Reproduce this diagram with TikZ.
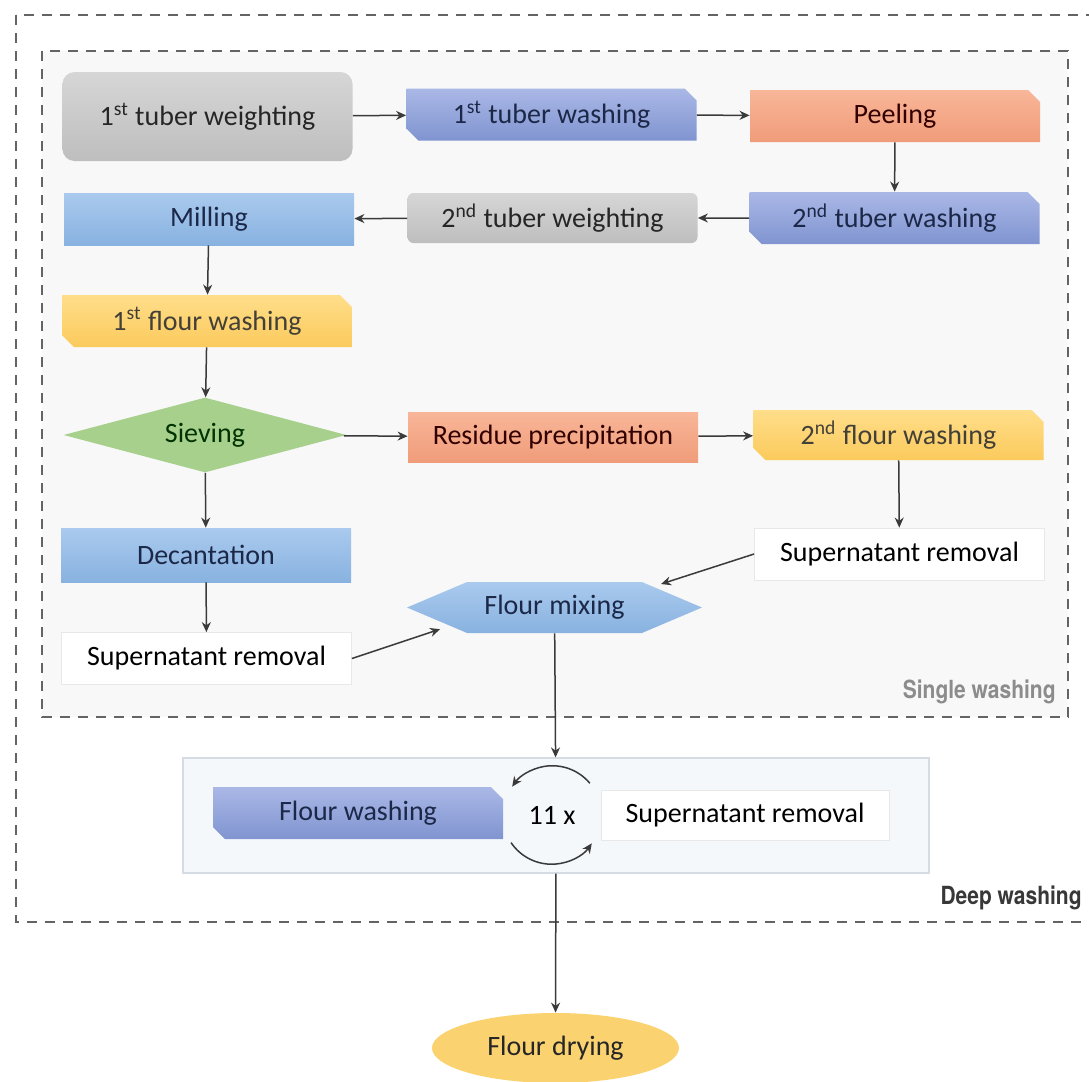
\documentclass[tikz,border=0pt]{standalone}
\usepackage{graphicx}
\usepackage{fontspec}
\setmainfont{Carlito}
\newfontfamily\labfont{TeX Gyre Heros}
\usepackage{tikz}
\usetikzlibrary{arrows.meta,positioning,shapes.geometric,shapes.misc,shapes.symbols}
\definecolor{wgh1}{RGB}{214,214,214}
\definecolor{wgh2}{RGB}{190,190,190}
\definecolor{wsh1}{RGB}{170,184,230}
\definecolor{wsh2}{RGB}{128,148,208}
\definecolor{sal1}{RGB}{248,182,152}
\definecolor{sal2}{RGB}{240,156,122}
\definecolor{blu1}{RGB}{170,202,238}
\definecolor{blu2}{RGB}{136,178,224}
\definecolor{yel1}{RGB}{255,222,138}
\definecolor{yel2}{RGB}{251,202,92}
\definecolor{grn1}{RGB}{168,208,141}
\definecolor{dry1}{RGB}{251,210,112}
\definecolor{innerbg}{RGB}{248,248,248}
\definecolor{deepbg}{RGB}{245,248,251}
\definecolor{deepline}{RGB}{214,220,228}
\definecolor{dashcol}{RGB}{100,100,100}
\definecolor{arrcol}{RGB}{58,58,58}
\definecolor{txtblue}{RGB}{28,40,72}
\tikzset{
	base/.style={font=\fontsize{14}{17}\selectfont, inner sep=0pt, minimum width=145pt, minimum height=26pt, align=center},
	weigh/.style={base, rounded corners=6pt, top color=wgh1, bottom color=wgh2, text=black!85},
	wash/.style={base, chamfered rectangle, chamfered rectangle corners={north east,south west}, chamfered rectangle xsep=3pt, chamfered rectangle ysep=3pt, top color=wsh1, bottom color=wsh2, text=txtblue},
	peel/.style={base, chamfered rectangle, chamfered rectangle corners={north east}, chamfered rectangle xsep=3pt, chamfered rectangle ysep=3pt, top color=sal1, bottom color=sal2, text=black!80!red},
	resid/.style={base, rectangle, top color=sal1, bottom color=sal2, text=black!80!red},
	mill/.style={base, rectangle, top color=blu1, bottom color=blu2, text=txtblue},
	flour/.style={base, chamfered rectangle, chamfered rectangle corners={north east,south west}, chamfered rectangle xsep=3pt, chamfered rectangle ysep=3pt, top color=yel1, bottom color=yel2, text=black!85!yellow},
	supbox/.style={base, rectangle, fill=white, draw=black!9},
	dashbox/.style={draw=dashcol, line width=1pt, dash pattern=on 5pt off 4pt},
	flow/.style={-{Stealth[length=5pt,width=4.5pt]}, line width=0.75pt, draw=arrcol},
	grouplabel/.style={font=\labfont\bfseries\fontsize{12.5}{14}\selectfont, inner sep=0pt, anchor=east}
}
\begin{document}
\begin{tikzpicture}[x=0.5pt,y=-0.5pt]
	\useasboundingbox (0,0) rectangle (1089,1082);
	\draw[dashbox] (16,15) rectangle (1098,922);
	\draw[dashbox, fill=innerbg] (42,51) rectangle (1068,717);
	\node[grouplabel, text=black!45] (single) at (1056,692) {\scalebox{0.84}[1]{Single washing}};
	\node[grouplabel, text=black!78] (deep) at (1082,898) {\scalebox{0.84}[1]{Deep washing}};

	\node[weigh, minimum height=44.5pt] (w1) at (207.5,116.5) {1\textsuperscript{st} tuber weighting};
	\node[wash] (tw1) at (551.5,114.5) {1\textsuperscript{st} tuber washing};
	\node[peel] (pl) at (895,116) {Peeling};
	\node[wash] (tw2) at (894.5,218) {2\textsuperscript{nd} tuber washing};
	\node[weigh, rounded corners=3pt, minimum height=25pt] (w2) at (552.5,218) {2\textsuperscript{nd} tuber weighting};
	\node[mill] (ml) at (209,219) {Milling};
	\node[flour] (fw1) at (207,321) {1\textsuperscript{st} flour washing};
	\node[base, diamond, aspect=3.8, minimum width=141.5pt, minimum height=37.5pt, fill=grn1, text=black!80!green] (sv) at (205,435) {Sieving};
	\node[resid, minimum height=25pt] (rp) at (553,437) {Residue precipitation};
	\node[flour, minimum height=25pt] (fw2) at (898.5,435) {2\textsuperscript{nd} flour washing};
	\node[supbox] (sr2) at (899.5,554) {Supernatant removal};
	\node[mill, minimum height=27pt] (dc) at (206,555) {Decantation};
	\node[supbox] (sr1) at (206.5,658.5) {Supernatant removal};
	\node[base, signal, signal to=east and west, signal pointer angle=46, minimum width=147.5pt, minimum height=25.5pt, top color=blu1, bottom color=blu2, text=txtblue] (mx) at (554.5,607.5) {Flour mixing};

	\node[rectangle, minimum width=373pt, minimum height=57.5pt, fill=deepbg, draw=deepline, line width=0.6pt] (dw) at (556,815.5) {};
	\node[wash] (fwd) at (358,813) {Flour washing};
	\node[supbox, minimum width=144pt, minimum height=25pt] (srd) at (745,815) {Supernatant removal};
	\node[circle, minimum size=49pt, inner sep=0pt, font=\fontsize{14}{17}\selectfont] (rep) at (552,815) {11 x};
	\node[ellipse, minimum width=123.5pt, minimum height=35pt, fill=dry1, font=\fontsize{14}{17}\selectfont, text=black!85] (dr) at (555.5,1048) {Flour drying};

	\draw[flow] (w1) -- (tw1);
	\draw[flow] (tw1) -- (pl);
	\draw[flow] (pl) -- (tw2);
	\draw[flow] (tw2) -- (w2);
	\draw[flow] (w2) -- (ml);
	\draw[flow] (ml) -- (fw1);
	\draw[flow] (fw1) -- (sv);
	\draw[flow] (sv) -- (rp);
	\draw[flow] (rp) -- (fw2);
	\draw[flow] (fw2) -- (sr2);
	\draw[flow, shorten >=4pt] (sr2.west) -- (mx.12);
	\draw[flow] (sv) -- (dc);
	\draw[flow] (dc) -- (sr1);
	\draw[flow, shorten >=5pt] (sr1.east) -- (mx.190);
	\draw[flow] (mx) -- (dw);
	\draw[flow] (dw) -- (dr);
	\draw[flow] (rep.40) arc[start angle=40, end angle=145, radius=24.5pt];
	\draw[flow] (rep.214) arc[start angle=214, end angle=325, radius=24.5pt];
\end{tikzpicture}
\end{document}
